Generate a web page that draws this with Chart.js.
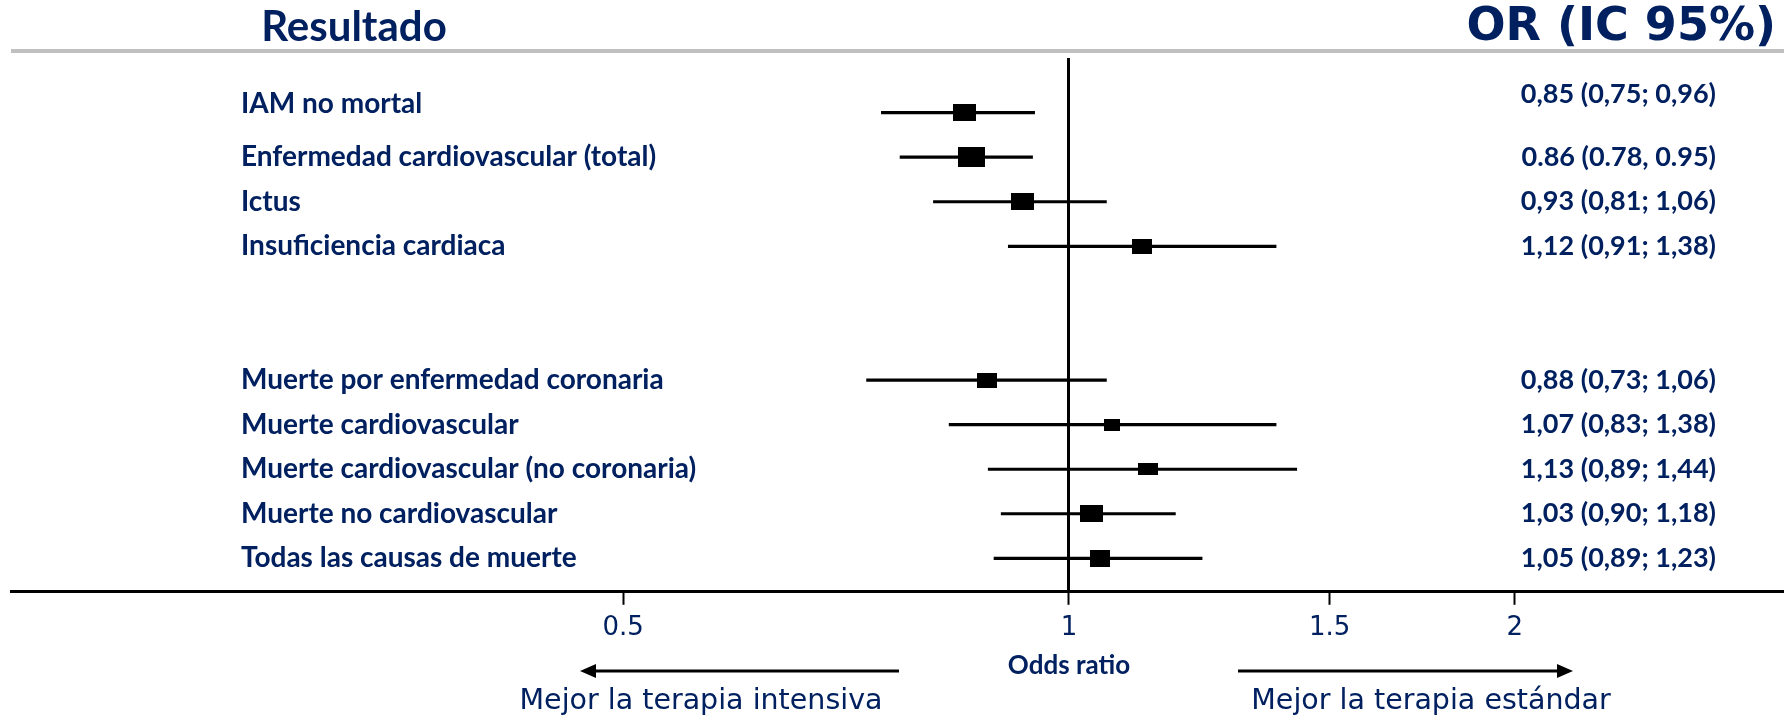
<!DOCTYPE html>
<html><head><meta charset="utf-8">
<script src="https://cdn.jsdelivr.net/npm/chart.js@4.4.1/dist/chart.umd.min.js"></script>
<style>html,body{margin:0;padding:0;background:#fff}#wrap{width:1784px;height:717px}</style>
</head><body><div id="wrap"><canvas id="c" width="1784" height="717"></canvas></div>
<script>
// ---- data (plotted values) ----
const categories = ['IAM no mortal','Enfermedad cardiovascular (total)','Ictus','Insuficiencia cardiaca','','','Muerte por enfermedad coronaria','Muerte cardiovascular','Muerte cardiovascular (no coronaria)','Muerte no cardiovascular','Todas las causas de muerte'];
const orValues = [0.85,0.86,0.93,1.12,null,null,0.88,1.07,1.13,1.035,1.05];
const ciLower  = [0.747,0.769,0.81,0.91,null,null,0.73,0.83,0.882,0.90,0.89];
const ciUpper  = [0.948,0.945,1.06,1.38,null,null,1.06,1.38,1.425,1.18,1.23];
const orLabels = ['0,85 (0,75; 0,96)','0.86 (0.78, 0.95)','0,93 (0,81; 1,06)','1,12 (0,91; 1,38)','','','0,88 (0,73; 1,06)','1,07 (0,83; 1,38)','1,13 (0,89; 1,44)','1,03 (0,90; 1,18)','1,05 (0,89; 1,23)'];
const tickValues = [0.5,1,1.5,2];
const tickLabels = ['0.5','1','1.5','2'];

// ---- styles ----
const NAVY = '#002060';
const markerW = [23,27,23,20,0,0,20,16,20,23,20];
const markerH = [17,20,17,15,0,0,15,12,12,17,17];
const labelShift = [-9,0,0,0,0,0,0,0,0,0,0];
const orShift = [-18,0,0,0,0,0,0,0,0,0,0];

function makeBox(i){
  const c = document.createElement('canvas');
  c.width = markerW[i]; c.height = markerH[i];
  const g = c.getContext('2d');
  g.fillStyle = '#000'; g.fillRect(0,0,c.width,c.height);
  return c;
}
const boxes = categories.map((_,i)=> markerW[i] ? makeBox(i) : null);

const whiskerData = [];
const pointData = [];
categories.forEach((c,i)=>{
  if (orValues[i] == null) return;
  whiskerData.push({x:[ciLower[i], ciUpper[i]], y:i});
  pointData.push({x:orValues[i], y:i});
});

const decor = {
  id:'decor',
  afterDraw(chart){
    const ctx = chart.ctx;
    const ys = chart.scales.y, xs = chart.scales.x;
    ctx.save();
    // header
    ctx.strokeStyle = '#c0c0c0'; ctx.lineWidth = 4;
    ctx.beginPath(); ctx.moveTo(11,51); ctx.lineTo(1784,51); ctx.stroke();
    ctx.fillStyle = NAVY; ctx.textBaseline = 'middle';
    ctx.font = 'bold 42px Lato'; ctx.textAlign = 'center';
    ctx.fillText('Resultado', 354, 27);
    ctx.font = 'bold 46px "DejaVu Sans"'; ctx.textAlign = 'right';
    ctx.fillText('OR (IC 95%)', 1776, 28);
    // row labels
    categories.forEach((lab,i)=>{
      if (!lab) return;
      const y = ys.getPixelForValue(i);
      ctx.font = 'bold 28px Lato';
      ctx.textAlign = 'left'; ctx.fillText(lab, 241, y + labelShift[i]);
      ctx.font = 'bold 27px Lato';
      ctx.textAlign = 'right'; ctx.fillText(orLabels[i], 1716, y + orShift[i]);
    });
    // axis title
    ctx.font = 'bold 26px Lato'; ctx.textAlign = 'center';
    ctx.fillText('Odds ratio', xs.getPixelForValue(1), 666);
    // arrows
    ctx.strokeStyle = '#000'; ctx.fillStyle = '#000'; ctx.lineWidth = 3;
    const ay = 671;
    ctx.beginPath(); ctx.moveTo(899,ay); ctx.lineTo(592,ay); ctx.stroke();
    ctx.beginPath(); ctx.moveTo(580,ay); ctx.lineTo(596,ay-7); ctx.lineTo(596,ay+7); ctx.closePath(); ctx.fill();
    ctx.beginPath(); ctx.moveTo(1238,ay); ctx.lineTo(1560,ay); ctx.stroke();
    ctx.beginPath(); ctx.moveTo(1573,ay); ctx.lineTo(1557,ay-7); ctx.lineTo(1557,ay+7); ctx.closePath(); ctx.fill();
    // bottom texts
    ctx.fillStyle = NAVY; ctx.font = '28.5px "DejaVu Sans"'; ctx.textAlign = 'center';
    ctx.fillText('Mejor la terapia intensiva', 701, 702);
    ctx.fillText('Mejor la terapia estándar', 1431, 702);
    ctx.restore();
  }
};

new Chart(document.getElementById('c'), {
  data: {
    datasets: [
      {type:'bar', indexAxis:'y', data: whiskerData, backgroundColor:'#000', borderWidth:0, barThickness:2.5, xAxisID:'x', yAxisID:'y'},
      {type:'scatter', data: pointData, pointStyle: c => (c.raw && boxes[c.raw.y]) ? boxes[c.raw.y] : 'rect', pointRadius: 10, xAxisID:'x', yAxisID:'y'}
    ]
  },
  options: {
    responsive:false, animation:false, devicePixelRatio:1, events:[],
    layout:{autoPadding:false, padding:{left:11, right:0, top:58, bottom:65}},
    plugins:{legend:{display:false}, tooltip:{enabled:false}},
    scales:{
      x:{type:'logarithmic', min:0.193, max:3.04, bounds:'data', position:'bottom', offset:false,
        afterBuildTicks: s => { s.ticks = tickValues.map(v=>({value:v})); },
        ticks:{callback:(v)=>{const k=tickValues.indexOf(v); return k>=0?tickLabels[k]:'';}, font:{family:'DejaVu Sans', size:26}, color:NAVY, padding:8, maxRotation:0, autoSkip:false},
        grid:{offset:false, color:c=> (c.tick && c.tick.value===1) ? '#000' : 'rgba(0,0,0,0)', lineWidth:3, tickColor:'#000', tickLength:13, tickWidth:2, drawOnChartArea:true, drawTicks:true},
        border:{display:true, color:'#000', width:3},
        title:{display:false}
      },
      y:{type:'linear', display:false, reverse:true, offset:false, grid:{offset:false}, min:-1.225, max:10.75}
    }
  },
  plugins:[decor]
});
</script></body></html>
